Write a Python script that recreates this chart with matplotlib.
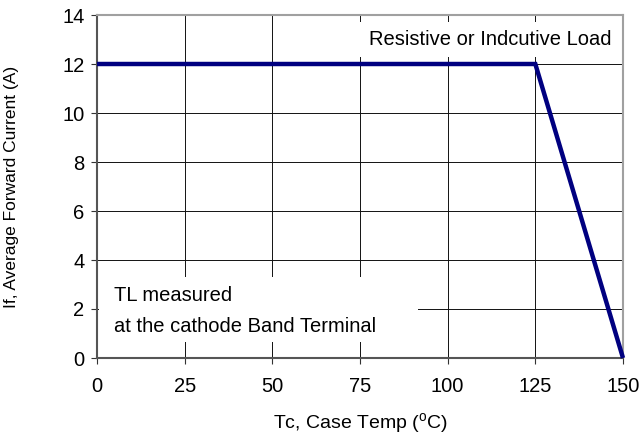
import matplotlib
matplotlib.use('Agg')
import matplotlib.pyplot as plt
from matplotlib.patches import Rectangle

plt.rcParams['font.family'] = ['Liberation Sans', 'DejaVu Sans']
plt.rcParams['mathtext.fontset'] = 'custom'
plt.rcParams['mathtext.rm'] = 'Liberation Sans'

# derating curve
temp = [0, 125, 150]
current = [12, 12, 0]
x_ticks = [0, 25, 50, 75, 100, 125, 150]
y_ticks = [0, 2, 4, 6, 8, 10, 12, 14]

fig = plt.figure(figsize=(6.41, 4.36), dpi=100)
ax = fig.add_axes([97/641, 1-358/436, 526/641, 343/436])

ax.plot(temp, current, color='#000080', linewidth=3.2, zorder=4,
        clip_on=False, solid_capstyle='butt', solid_joinstyle='miter')

ax.set_xlim(0, 150)
ax.set_ylim(0, 14)
ax.set_xticks(x_ticks)
ax.set_yticks(y_ticks)
ax.tick_params(labelsize=14.5, length=4, width=0.8, color='#333333')
ax.tick_params(axis='x', pad=10)
ax.tick_params(axis='y', pad=5)
ax.grid(True, color='#111111', linewidth=0.7, zorder=1)

for side in ['left', 'bottom']:
    ax.spines[side].set_color('#555555')
    ax.spines[side].set_linewidth(1.5)
for side in ['top', 'right']:
    ax.spines[side].set_color('#a0a0a0')
    ax.spines[side].set_linewidth(1.5)

# white boxes behind the notes
ax.add_patch(Rectangle((0.49, 0.878), 0.504, 0.102, transform=ax.transAxes,
                       facecolor='white', edgecolor='none', zorder=2))
ax.add_patch(Rectangle((0.003, 0.047), 0.607, 0.189, transform=ax.transAxes,
                       facecolor='white', edgecolor='none', zorder=2))

ax.text(0.979, 0.93, 'Resistive or Indcutive Load', transform=ax.transAxes,
        ha='right', va='center', fontsize=14.5, zorder=3)
ax.text(0.032, 0.183, 'TL measured', transform=ax.transAxes,
        ha='left', va='center', fontsize=14.5, zorder=3)
ax.text(0.032, 0.093, 'at the cathode Band Terminal', transform=ax.transAxes,
        ha='left', va='center', fontsize=14.5, zorder=3)

ax.set_xlabel(r'Tc, Case Temp ($^{\rm o}$C)', fontsize=14)
ax.set_ylabel('If, Average Forward Current (A)', fontsize=12.5)
ax.xaxis.set_label_coords(0.5, -0.155)
ax.yaxis.set_label_coords(-0.148, 0.5)

fig.savefig('out.png', dpi=100, facecolor='white')
